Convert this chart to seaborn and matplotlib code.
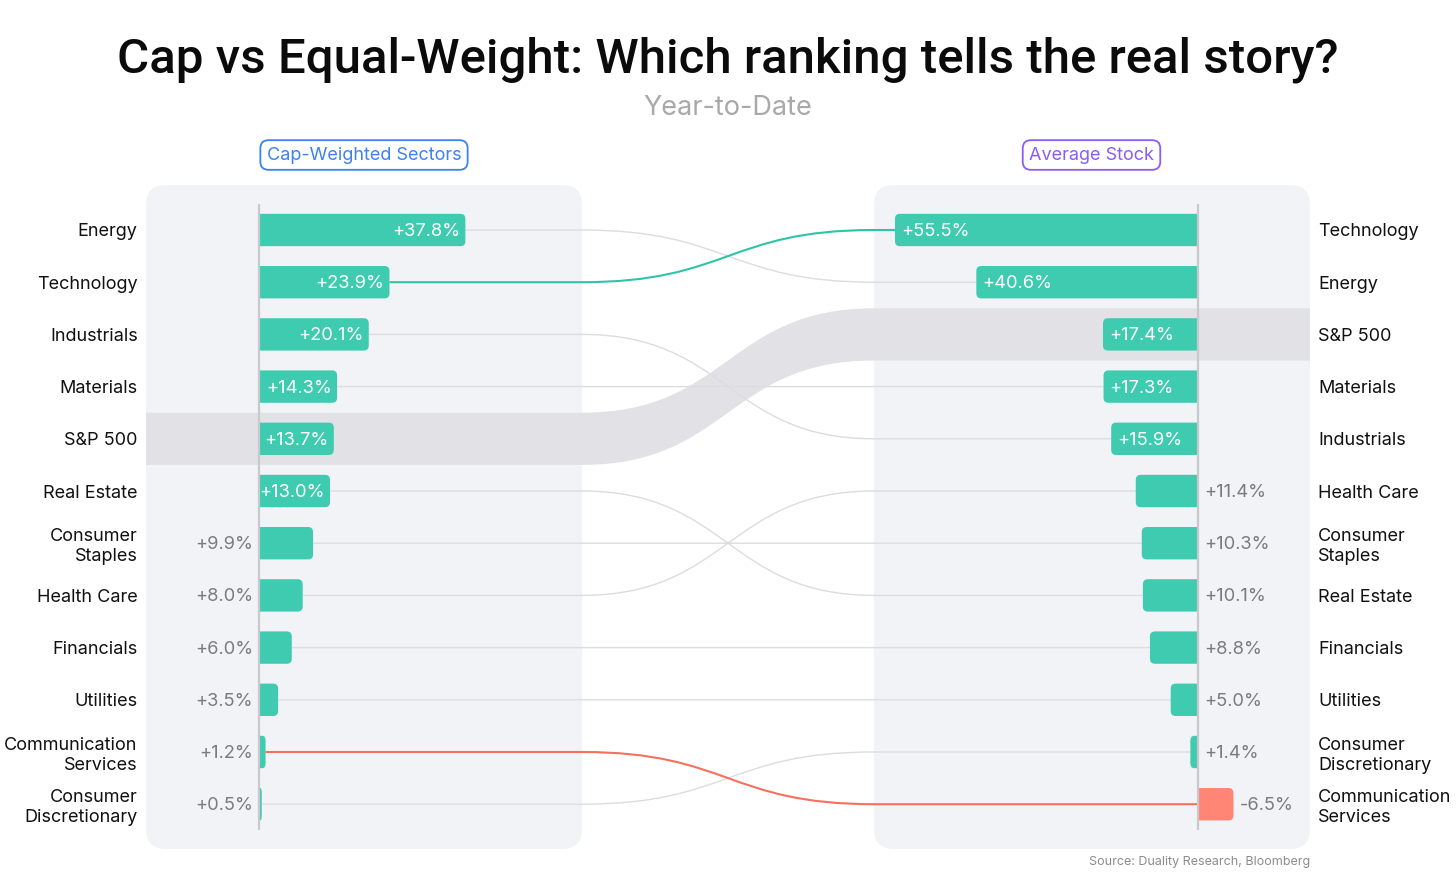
import numpy as np
import matplotlib
matplotlib.use("Agg")
import matplotlib.pyplot as plt
import seaborn as sns
from matplotlib.patches import FancyBboxPatch, PathPatch
from matplotlib.path import Path

# ---- data -------------------------------------------------------------
left_sectors = ["Energy", "Technology", "Industrials", "Materials", "S&P 500",
                "Real Estate", "Consumer Staples", "Health Care", "Financials",
                "Utilities", "Communication Services", "Consumer Discretionary"]
left_values = [37.8, 23.9, 20.1, 14.3, 13.7, 13.0, 9.9, 8.0, 6.0, 3.5, 1.2, 0.5]

right_sectors = ["Technology", "Energy", "S&P 500", "Materials", "Industrials",
                 "Health Care", "Consumer Staples", "Real Estate", "Financials",
                 "Utilities", "Consumer Discretionary", "Communication Services"]
right_values = [55.5, 40.6, 17.4, 17.3, 15.9, 11.4, 10.3, 10.1, 8.8, 5.0, 1.4, -6.5]

display_names = {"Consumer Staples": "Consumer\nStaples",
                 "Communication Services": "Communication\nServices",
                 "Consumer Discretionary": "Consumer\nDiscretionary"}

TEAL = "#3ecbb0"
RED = "#ff8575"
highlight_links = {"Technology": "#2fc4a6", "Communication Services": "#f7705e"}
band_sector = "S&P 500"

PANEL = "#f2f3f7"
BAND = "#e1e1e6"
LINK = "#dcdce1"
GRAY_TXT = "#7b7b7b"

title = "Cap vs Equal-Weight: Which ranking tells the real story?"
subtitle = "Year-to-Date"
source = "Source: Duality Research, Bloomberg"

# ---- layout -----------------------------------------------------------
sns.set_theme(style="white")
plt.rcParams['font.family'] = ['Inter', 'DejaVu Sans']

W, H = 1456, 874
fig = plt.figure(figsize=(W / 100, H / 100), dpi=100)
fig.patch.set_facecolor("white")


def px_box(x0, y0, x1, y1):
    return [x0 / W, 1 - y1 / H, (x1 - x0) / W, (y1 - y0) / H]


canvas = fig.add_axes([0, 0, 1, 1], zorder=0)
canvas.set_xlim(0, W)
canvas.set_ylim(H, 0)
canvas.axis("off")

ax_l = fig.add_axes(px_box(146, 185, 582, 849), zorder=2)
ax_r = fig.add_axes(px_box(874, 185, 1310, 849), zorder=2)

PCT_PX = 5.46      # pixels per percentage point
ROW_PX = 52.2      # pixels per row
row_lim = ((849 - 230) / ROW_PX, (185 - 230) / ROW_PX)


def to_canvas(ax, pt):
    return canvas.transData.inverted().transform(ax.transData.transform(pt))


def bar_path(base, end, y0, y1, rx, ry):
    # bar square at the base, rounded at the far end
    s = 1 if end >= base else -1
    rx = min(rx, abs(end - base) / 2)
    verts = [(base, y0), (end - s * rx, y0), (end, y0), (end, y0 + ry),
             (end, y1 - ry), (end, y1), (end - s * rx, y1), (base, y1), (base, y0)]
    codes = [Path.MOVETO, Path.LINETO, Path.CURVE3, Path.CURVE3,
             Path.LINETO, Path.CURVE3, Path.CURVE3, Path.LINETO, Path.CLOSEPOLY]
    return Path(verts, codes)


def draw_side(ax, sectors, values, side):
    n = len(sectors)
    colors = [TEAL if v >= 0 else RED for v in values]
    sns.barplot(x=values, y=sectors, hue=sectors, palette=colors, legend=False,
                orient="h", width=0.62, ax=ax, saturation=1)
    ax.set_ylim(*row_lim)
    if side == "left":
        ax.set_xlim(-(259 - 146) / PCT_PX, (582 - 259) / PCT_PX)
    else:
        ax.set_xlim((1198 - 874) / PCT_PX, -(1310 - 1198) / PCT_PX)

    # swap seaborn's rectangles for bars with a rounded outer end
    rx = 5 / PCT_PX
    ry = 5 / ROW_PX
    for p in list(ax.patches):
        x, y, w, h = p.get_x(), p.get_y(), p.get_width(), p.get_height()
        fc = p.get_facecolor()
        p.remove()
        y0, y1 = min(y, y + h), max(y, y + h)
        ax.add_patch(PathPatch(bar_path(x, x + w, y0, y1, rx, ry),
                               fc=fc, ec="none", zorder=2))

    ax.vlines(0, -0.5, n - 0.5, color="#c9c9cd", lw=1.6, zorder=4)

    for i, v in enumerate(values):
        txt = f"{v:+.1f}%"
        inside = abs(v) >= 12
        if side == "left":
            anchor, dx, ha = ((v, i), -5, "right") if inside else ((0, i), -6, "right")
        else:
            anchor, dx, ha = ((v, i), 6, "left") if inside else ((min(v, 0), i), 6, "left")
        ax.annotate(txt, anchor, xytext=(dx, -1.5), textcoords="offset pixels",
                    ha=ha, va="center", color="white" if inside else GRAY_TXT,
                    fontsize=13.2, zorder=5)

    ax.set_yticks(range(n), [display_names.get(s, s) for s in sectors])
    if side == "right":
        ax.yaxis.tick_right()
    ax.tick_params(axis="y", length=0, pad=6, labelsize=13, colors="#111111")
    for lab in ax.get_yticklabels():
        lab.set_linespacing(1.2)
    ax.set_xticks([])
    ax.set_xlabel("")
    ax.set_ylabel("")
    for sp in ax.spines.values():
        sp.set_visible(False)
    ax.patch.set_visible(False)


draw_side(ax_l, left_sectors, left_values, "left")
draw_side(ax_r, right_sectors, right_values, "right")

# ---- panels, band and links on the canvas -----------------------------
def panel_px(ax):
    bb = ax.get_position()
    return bb.x0 * W, (1 - bb.y1) * H, bb.width * W, bb.height * H


for ax in (ax_l, ax_r):
    x0, y0, w, h = panel_px(ax)
    canvas.add_patch(FancyBboxPatch((x0, y0), w, h,
                                    boxstyle="round,pad=0,rounding_size=20",
                                    fc=PANEL, ec="none", zorder=0))

lx0, _, lw_, _ = panel_px(ax_l)
rx0, _, rw_, _ = panel_px(ax_r)
edge_l = lx0 + lw_
edge_r = rx0
mid = (edge_l + edge_r) / 2

half = abs(to_canvas(ax_l, (0, 1))[1] - to_canvas(ax_l, (0, 0))[1]) / 2

for i, (name, v) in enumerate(zip(left_sectors, left_values)):
    j = right_sectors.index(name)
    vr = right_values[j]
    sx, sy = to_canvas(ax_l, (v, i))
    ex, ey = to_canvas(ax_r, (max(vr, 0), j))
    if name == band_sector:
        verts = [(lx0, sy - half), (edge_l, sy - half),
                 (mid, sy - half), (mid, ey - half), (edge_r, ey - half),
                 (rx0 + rw_, ey - half), (rx0 + rw_, ey + half), (edge_r, ey + half),
                 (mid, ey + half), (mid, sy + half), (edge_l, sy + half),
                 (lx0, sy + half), (lx0, sy - half)]
        codes = [Path.MOVETO, Path.LINETO, Path.CURVE4, Path.CURVE4, Path.CURVE4,
                 Path.LINETO, Path.LINETO, Path.LINETO, Path.CURVE4, Path.CURVE4,
                 Path.CURVE4, Path.LINETO, Path.CLOSEPOLY]
        canvas.add_patch(PathPatch(Path(verts, codes), fc=BAND, ec="none", zorder=1))
        continue
    verts = [(sx, sy), (edge_l, sy), (mid, sy), (mid, ey), (edge_r, ey), (ex, ey)]
    codes = [Path.MOVETO, Path.LINETO, Path.CURVE4, Path.CURVE4, Path.CURVE4, Path.LINETO]
    color = highlight_links.get(name, LINK)
    lw = 1.5 if name in highlight_links else 1.0
    canvas.add_patch(PathPatch(Path(verts, codes), fc="none", ec=color, lw=lw,
                               zorder=3 if name in highlight_links else 2))

# ---- texts ------------------------------------------------------------
t = canvas.text(W / 2, 60, title, ha="center", va="center", fontsize=40,
                family=["Roboto", "DejaVu Sans"], weight="medium", color="#0b0b0b")
r = fig.canvas.get_renderer()
tw = t.get_window_extent(r).width
t.set_fontsize(40 * 1221 / tw)

canvas.text(W / 2, 108, subtitle, ha="center", va="center", fontsize=19.5,
            color="#a9a9a9")

canvas.text(364, 155, "Cap-Weighted Sectors", ha="center", va="center", fontsize=13,
            color="#3b82f6",
            bbox=dict(boxstyle="round,pad=0.35,rounding_size=0.45", fc="white",
                      ec="#3b82f6", lw=1.3))
canvas.text(1091.5, 155, "Average Stock", ha="center", va="center", fontsize=13,
            color="#8b5cf6",
            bbox=dict(boxstyle="round,pad=0.35,rounding_size=0.45", fc="white",
                      ec="#8b5cf6", lw=1.3))

canvas.text(1310, 862, source, ha="right", va="center", fontsize=9, color="#8c8c8c")

fig.savefig("out.png", dpi=100, facecolor="white")
